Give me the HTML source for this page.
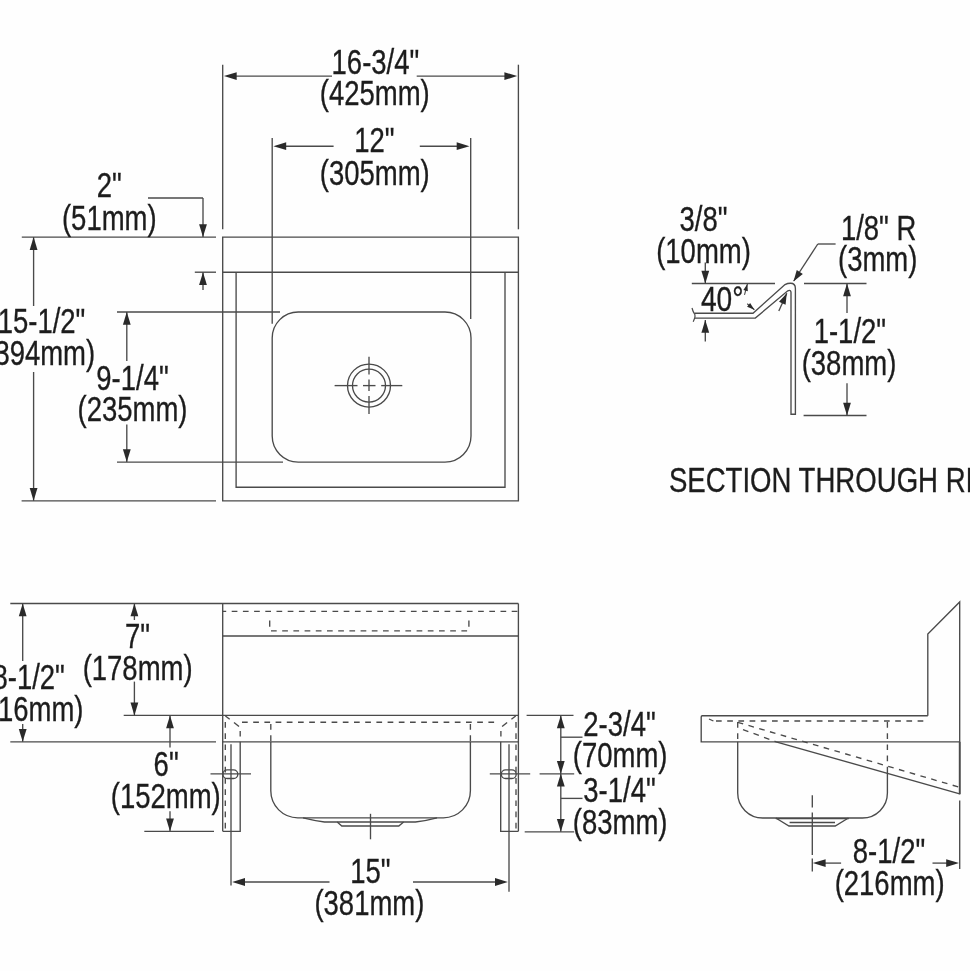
<!DOCTYPE html>
<html lang="en">
<head>
<meta charset="utf-8">
<title>Sink dimension drawing</title>
<style>
html,body{margin:0;padding:0;background:#fff;}
body{width:970px;height:971px;overflow:hidden;}
svg{display:block;filter:grayscale(1);}
svg text{font-family:"Liberation Sans",sans-serif;}
</style>
</head>
<body>
<svg width="970" height="971" viewBox="0 0 970 971">
<rect x="0" y="0" width="970" height="971" fill="#fefefe"/>
<line x1="222.70" y1="64.70" x2="222.70" y2="229.30" stroke="#4a4a4a" stroke-width="1.35"/>
<line x1="518.40" y1="64.70" x2="518.40" y2="229.30" stroke="#4a4a4a" stroke-width="1.35"/>
<line x1="229.90" y1="76.10" x2="332.00" y2="76.10" stroke="#4a4a4a" stroke-width="1.35"/>
<line x1="416.70" y1="76.10" x2="511.20" y2="76.10" stroke="#4a4a4a" stroke-width="1.35"/>
<polygon points="223.90,76.10 236.70,72.20 236.70,80.00" fill="#2a2a2a"/>
<polygon points="517.20,76.10 504.40,80.00 504.40,72.20" fill="#2a2a2a"/>
<line x1="272.20" y1="138.00" x2="272.20" y2="323.70" stroke="#4a4a4a" stroke-width="1.35"/>
<line x1="470.70" y1="138.00" x2="470.70" y2="319.00" stroke="#4a4a4a" stroke-width="1.35"/>
<line x1="279.40" y1="146.20" x2="333.60" y2="146.20" stroke="#4a4a4a" stroke-width="1.35"/>
<line x1="419.80" y1="146.20" x2="463.50" y2="146.20" stroke="#4a4a4a" stroke-width="1.35"/>
<polygon points="273.40,146.20 286.20,142.30 286.20,150.10" fill="#2a2a2a"/>
<polygon points="469.50,146.20 456.70,150.10 456.70,142.30" fill="#2a2a2a"/>
<path d="M222.7,237.1 H518.4 V500.8 H222.7 Z" fill="none" stroke="#4a4a4a" stroke-width="1.35"/>
<line x1="222.70" y1="272.20" x2="518.40" y2="272.20" stroke="#4a4a4a" stroke-width="1.35"/>
<path d="M236.1,272.2 V487.2 H505 V272.2" fill="none" stroke="#4a4a4a" stroke-width="1.35"/>
<rect x="272.2" y="312" width="198.8" height="150.1" rx="26" ry="26" fill="none" stroke="#4a4a4a" stroke-width="1.35"/>
<circle cx="369.0" cy="385.6" r="21.5" fill="none" stroke="#4a4a4a" stroke-width="1.35"/>
<circle cx="369.0" cy="385.6" r="16.5" fill="none" stroke="#4a4a4a" stroke-width="1.35"/>
<line x1="334.60" y1="385.60" x2="357.50" y2="385.60" stroke="#4a4a4a" stroke-width="1.35"/>
<line x1="363.00" y1="385.60" x2="375.50" y2="385.60" stroke="#4a4a4a" stroke-width="1.35"/>
<line x1="381.20" y1="385.60" x2="402.30" y2="385.60" stroke="#4a4a4a" stroke-width="1.35"/>
<line x1="369.00" y1="356.70" x2="369.00" y2="374.40" stroke="#4a4a4a" stroke-width="1.35"/>
<line x1="369.00" y1="379.60" x2="369.00" y2="391.00" stroke="#4a4a4a" stroke-width="1.35"/>
<line x1="369.00" y1="396.00" x2="369.00" y2="414.00" stroke="#4a4a4a" stroke-width="1.35"/>
<line x1="21.80" y1="237.10" x2="216.00" y2="237.10" stroke="#4a4a4a" stroke-width="1.35"/>
<line x1="21.60" y1="500.80" x2="216.00" y2="500.80" stroke="#4a4a4a" stroke-width="1.35"/>
<line x1="33.60" y1="237.10" x2="33.60" y2="306.00" stroke="#4a4a4a" stroke-width="1.35"/>
<line x1="33.60" y1="372.00" x2="33.60" y2="500.80" stroke="#4a4a4a" stroke-width="1.35"/>
<polygon points="33.60,237.10 37.50,249.90 29.70,249.90" fill="#2a2a2a"/>
<polygon points="33.60,500.80 29.70,488.00 37.50,488.00" fill="#2a2a2a"/>
<line x1="148.00" y1="198.00" x2="203.00" y2="198.00" stroke="#4a4a4a" stroke-width="1.35"/>
<line x1="203.00" y1="198.00" x2="203.00" y2="237.10" stroke="#4a4a4a" stroke-width="1.35"/>
<polygon points="203.00,237.10 199.10,224.30 206.90,224.30" fill="#2a2a2a"/>
<line x1="194.80" y1="272.20" x2="216.00" y2="272.20" stroke="#4a4a4a" stroke-width="1.35"/>
<line x1="203.00" y1="272.20" x2="203.00" y2="290.00" stroke="#4a4a4a" stroke-width="1.35"/>
<polygon points="203.00,272.20 206.90,285.00 199.10,285.00" fill="#2a2a2a"/>
<line x1="117.00" y1="312.00" x2="280.00" y2="312.00" stroke="#4a4a4a" stroke-width="1.35"/>
<line x1="117.00" y1="462.10" x2="283.00" y2="462.10" stroke="#4a4a4a" stroke-width="1.35"/>
<line x1="126.80" y1="312.00" x2="126.80" y2="361.00" stroke="#4a4a4a" stroke-width="1.35"/>
<line x1="126.80" y1="424.40" x2="126.80" y2="462.10" stroke="#4a4a4a" stroke-width="1.35"/>
<polygon points="126.80,312.00 130.70,324.80 122.90,324.80" fill="#2a2a2a"/>
<polygon points="126.80,462.10 122.90,449.30 130.70,449.30" fill="#2a2a2a"/>
<text transform="translate(331.56,74.05) scale(0.772,1)" font-size="35.6" fill="#1c1c1c" stroke="#1c1c1c" stroke-width="0.35">16-3/4&quot;</text>
<text transform="translate(319.83,105.35) scale(0.772,1)" font-size="35.6" fill="#1c1c1c" stroke="#1c1c1c" stroke-width="0.35">(425mm)</text>
<text transform="translate(354.17,151.85) scale(0.772,1)" font-size="35.6" fill="#1c1c1c" stroke="#1c1c1c" stroke-width="0.35">12&quot;</text>
<text transform="translate(319.83,184.55) scale(0.772,1)" font-size="35.6" fill="#1c1c1c" stroke="#1c1c1c" stroke-width="0.35">(305mm)</text>
<text transform="translate(96.80,197.05) scale(0.772,1)" font-size="35.6" fill="#1c1c1c" stroke="#1c1c1c" stroke-width="0.35">2&quot;</text>
<text transform="translate(61.96,229.85) scale(0.772,1)" font-size="35.6" fill="#1c1c1c" stroke="#1c1c1c" stroke-width="0.35">(51mm)</text>
<text transform="translate(-2.34,333.35) scale(0.772,1)" font-size="35.6" fill="#1c1c1c" stroke="#1c1c1c" stroke-width="0.35">15-1/2&quot;</text>
<text transform="translate(-14.77,365.35) scale(0.772,1)" font-size="35.6" fill="#1c1c1c" stroke="#1c1c1c" stroke-width="0.35">(394mm)</text>
<text transform="translate(96.29,390.15) scale(0.772,1)" font-size="35.6" fill="#1c1c1c" stroke="#1c1c1c" stroke-width="0.35">9-1/4&quot;</text>
<text transform="translate(77.53,421.25) scale(0.772,1)" font-size="35.6" fill="#1c1c1c" stroke="#1c1c1c" stroke-width="0.35">(235mm)</text>
<path d="M694.6,313.2 H753 L785,284.6 Q787.5,283.2 790.5,283.2 Q795.4,283.2 795.4,288.5 V414.2 H791 V292.5 Q791,289.5 787.8,290.8 L755.3,318.1 H694.6" fill="none" stroke="#4a4a4a" stroke-width="1.35"/>
<path d="M692,308 Q693,312 694.8,314.3 Q695.3,316 694.7,318 Q693.9,320 693.2,321.8" fill="none" stroke="#4a4a4a" stroke-width="1.2"/>
<line x1="691.80" y1="283.50" x2="775.00" y2="283.50" stroke="#4a4a4a" stroke-width="1.35"/>
<line x1="804.00" y1="283.50" x2="866.50" y2="283.50" stroke="#4a4a4a" stroke-width="1.35"/>
<line x1="705.30" y1="262.50" x2="705.30" y2="283.50" stroke="#4a4a4a" stroke-width="1.35"/>
<polygon points="705.30,283.50 701.40,270.70 709.20,270.70" fill="#2a2a2a"/>
<line x1="705.30" y1="320.00" x2="705.30" y2="341.60" stroke="#4a4a4a" stroke-width="1.35"/>
<polygon points="705.30,320.00 709.20,332.80 701.40,332.80" fill="#2a2a2a"/>
<line x1="835.60" y1="244.00" x2="817.80" y2="244.00" stroke="#4a4a4a" stroke-width="1.35"/>
<line x1="817.80" y1="244.00" x2="793.70" y2="281.00" stroke="#4a4a4a" stroke-width="1.35"/>
<polygon points="793.50,281.60 796.76,270.00 802.79,273.93" fill="#2a2a2a"/>
<line x1="778.80" y1="311.00" x2="786.80" y2="293.30" stroke="#4a4a4a" stroke-width="1.35"/>
<polygon points="786.80,293.30 785.55,304.81 778.99,301.84" fill="#2a2a2a"/>
<line x1="744.50" y1="294.80" x2="747.40" y2="283.90" stroke="#4a4a4a" stroke-width="1.1"/>
<polygon points="747.40,283.90 747.82,291.26 743.38,290.07" fill="#2a2a2a"/>
<line x1="747.20" y1="303.80" x2="754.40" y2="309.70" stroke="#4a4a4a" stroke-width="1.1"/>
<polygon points="754.40,309.70 747.08,306.80 750.12,303.09" fill="#2a2a2a"/>
<line x1="803.60" y1="415.50" x2="866.50" y2="415.50" stroke="#4a4a4a" stroke-width="1.35"/>
<line x1="847.00" y1="283.50" x2="847.00" y2="313.00" stroke="#4a4a4a" stroke-width="1.35"/>
<line x1="847.00" y1="383.30" x2="847.00" y2="415.50" stroke="#4a4a4a" stroke-width="1.35"/>
<polygon points="847.00,283.50 850.90,296.30 843.10,296.30" fill="#2a2a2a"/>
<polygon points="847.00,415.50 843.10,402.70 850.90,402.70" fill="#2a2a2a"/>
<text transform="translate(679.52,230.85) scale(0.772,1)" font-size="35.6" fill="#1c1c1c" stroke="#1c1c1c" stroke-width="0.35">3/8&quot;</text>
<text transform="translate(656.16,262.85) scale(0.772,1)" font-size="35.6" fill="#1c1c1c" stroke="#1c1c1c" stroke-width="0.35">(10mm)</text>
<text transform="translate(840.88,239.75) scale(0.772,1)" font-size="35.6" fill="#1c1c1c" stroke="#1c1c1c" stroke-width="0.35">1/8&quot; R</text>
<text transform="translate(837.99,271.05) scale(0.772,1)" font-size="35.6" fill="#1c1c1c" stroke="#1c1c1c" stroke-width="0.35">(3mm)</text>
<text transform="translate(700.90,310.55) scale(0.79,1)" font-size="35.6" fill="#1c1c1c" stroke="#1c1c1c" stroke-width="0.35">40°</text>
<text transform="translate(813.69,343.35) scale(0.772,1)" font-size="35.6" fill="#1c1c1c" stroke="#1c1c1c" stroke-width="0.35">1-1/2&quot;</text>
<text transform="translate(801.66,375.15) scale(0.772,1)" font-size="35.6" fill="#1c1c1c" stroke="#1c1c1c" stroke-width="0.35">(38mm)</text>
<text transform="translate(668.90,491.75) scale(0.775,1)" font-size="35.6" fill="#1c1c1c" stroke="#1c1c1c" stroke-width="0.35">SECTION THROUGH RIM</text>
<line x1="10.30" y1="603.50" x2="518.40" y2="603.50" stroke="#4a4a4a" stroke-width="1.35"/>
<line x1="222.70" y1="603.50" x2="222.70" y2="831.30" stroke="#4a4a4a" stroke-width="1.35"/>
<line x1="518.40" y1="603.50" x2="518.40" y2="831.30" stroke="#4a4a4a" stroke-width="1.35"/>
<line x1="222.70" y1="611.40" x2="518.40" y2="611.40" stroke="#4a4a4a" stroke-width="1.35" stroke-dasharray="5.7 5.5" stroke-dashoffset="-9"/>
<line x1="269.70" y1="620.50" x2="269.70" y2="626.70" stroke="#4a4a4a" stroke-width="1.35"/>
<line x1="468.90" y1="620.50" x2="468.90" y2="626.70" stroke="#4a4a4a" stroke-width="1.35"/>
<line x1="271.00" y1="630.80" x2="469.00" y2="630.80" stroke="#4a4a4a" stroke-width="1.35" stroke-dasharray="5.7 5.5"/>
<line x1="222.70" y1="636.00" x2="518.40" y2="636.00" stroke="#4a4a4a" stroke-width="1.35"/>
<line x1="123.70" y1="715.40" x2="518.40" y2="715.40" stroke="#4a4a4a" stroke-width="1.35"/>
<line x1="242.00" y1="722.20" x2="495.00" y2="722.20" stroke="#4a4a4a" stroke-width="1.35" stroke-dasharray="5.7 5.5"/>
<line x1="10.30" y1="741.80" x2="216.00" y2="741.80" stroke="#4a4a4a" stroke-width="1.35"/>
<line x1="222.70" y1="741.80" x2="518.40" y2="741.80" stroke="#4a4a4a" stroke-width="1.35"/>
<line x1="225.40" y1="716.00" x2="229.70" y2="719.30" stroke="#4a4a4a" stroke-width="1.35"/>
<line x1="515.70" y1="716.00" x2="511.40" y2="719.30" stroke="#4a4a4a" stroke-width="1.35"/>
<line x1="234.00" y1="722.40" x2="239.00" y2="726.60" stroke="#4a4a4a" stroke-width="1.35"/>
<line x1="507.10" y1="722.40" x2="502.10" y2="726.60" stroke="#4a4a4a" stroke-width="1.35"/>
<line x1="240.20" y1="731.00" x2="240.20" y2="736.60" stroke="#4a4a4a" stroke-width="1.35"/>
<line x1="500.90" y1="731.00" x2="500.90" y2="736.60" stroke="#4a4a4a" stroke-width="1.35"/>
<line x1="225.30" y1="722.00" x2="225.30" y2="831.00" stroke="#4a4a4a" stroke-width="1.35" stroke-dasharray="5.7 5.5"/>
<line x1="516.00" y1="722.00" x2="516.00" y2="831.00" stroke="#4a4a4a" stroke-width="1.35" stroke-dasharray="5.7 5.5"/>
<line x1="270.80" y1="724.00" x2="270.80" y2="741.80" stroke="#4a4a4a" stroke-width="1.35" stroke-dasharray="5.7 5.5"/>
<line x1="470.40" y1="724.00" x2="470.40" y2="741.80" stroke="#4a4a4a" stroke-width="1.35" stroke-dasharray="5.7 5.5"/>
<path d="M222.7,831.3 H240.2 V741.8" fill="none" stroke="#4a4a4a" stroke-width="1.35"/>
<path d="M518.4,831.3 H500.7 V741.8" fill="none" stroke="#4a4a4a" stroke-width="1.35"/>
<line x1="231.00" y1="744.30" x2="231.00" y2="885.60" stroke="#4a4a4a" stroke-width="1.35"/>
<line x1="509.00" y1="744.30" x2="509.00" y2="891.80" stroke="#4a4a4a" stroke-width="1.35"/>
<rect x="222.9" y="769.9" width="14.9" height="8.6" rx="4.3" ry="4.3" fill="none" stroke="#4a4a4a" stroke-width="1.35"/>
<rect x="501.3" y="769.9" width="14.9" height="8.6" rx="4.3" ry="4.3" fill="none" stroke="#4a4a4a" stroke-width="1.35"/>
<line x1="210.50" y1="773.80" x2="251.00" y2="773.80" stroke="#4a4a4a" stroke-width="1.35"/>
<line x1="489.80" y1="773.80" x2="530.20" y2="773.80" stroke="#4a4a4a" stroke-width="1.35"/>
<line x1="539.60" y1="773.80" x2="574.20" y2="773.80" stroke="#4a4a4a" stroke-width="1.35"/>
<path d="M270.8,741.8 V790.8 A27,27 0 0 0 297.8,817.8 H443.4 A27,27 0 0 0 470.4,790.8 V741.8" fill="none" stroke="#4a4a4a" stroke-width="1.35"/>
<path d="M303,817.8 Q314,820.5 324.5,822 H415.4 Q427,820.5 437,817.8" fill="none" stroke="#4a4a4a" stroke-width="1.35"/>
<path d="M337.2,822 L341.8,826 H398.8 L403.6,822" fill="none" stroke="#4a4a4a" stroke-width="1.35"/>
<line x1="370.50" y1="813.80" x2="370.50" y2="839.30" stroke="#4a4a4a" stroke-width="1.35"/>
<line x1="22.70" y1="603.50" x2="22.70" y2="661.00" stroke="#4a4a4a" stroke-width="1.35"/>
<line x1="22.70" y1="724.00" x2="22.70" y2="741.80" stroke="#4a4a4a" stroke-width="1.35"/>
<polygon points="22.70,603.50 26.60,616.30 18.80,616.30" fill="#2a2a2a"/>
<polygon points="22.70,741.80 18.80,729.00 26.60,729.00" fill="#2a2a2a"/>
<line x1="134.40" y1="603.50" x2="134.40" y2="620.00" stroke="#4a4a4a" stroke-width="1.35"/>
<polygon points="134.40,603.50 138.30,616.30 130.50,616.30" fill="#2a2a2a"/>
<line x1="134.40" y1="681.60" x2="134.40" y2="715.40" stroke="#4a4a4a" stroke-width="1.35"/>
<polygon points="134.40,715.40 130.50,702.60 138.30,702.60" fill="#2a2a2a"/>
<line x1="170.00" y1="715.40" x2="170.00" y2="747.40" stroke="#4a4a4a" stroke-width="1.35"/>
<polygon points="170.00,715.40 173.90,728.20 166.10,728.20" fill="#2a2a2a"/>
<line x1="170.00" y1="811.30" x2="170.00" y2="831.30" stroke="#4a4a4a" stroke-width="1.35"/>
<polygon points="170.00,831.30 166.10,818.50 173.90,818.50" fill="#2a2a2a"/>
<line x1="144.30" y1="831.30" x2="214.00" y2="831.30" stroke="#4a4a4a" stroke-width="1.35"/>
<text transform="translate(125.00,647.95) scale(0.772,1)" font-size="35.6" fill="#1c1c1c" stroke="#1c1c1c" stroke-width="0.35">7&quot;</text>
<text transform="translate(82.63,679.95) scale(0.772,1)" font-size="35.6" fill="#1c1c1c" stroke="#1c1c1c" stroke-width="0.35">(178mm)</text>
<text transform="translate(-7.51,689.25) scale(0.772,1)" font-size="35.6" fill="#1c1c1c" stroke="#1c1c1c" stroke-width="0.35">8-1/2&quot;</text>
<text transform="translate(-26.47,720.75) scale(0.772,1)" font-size="35.6" fill="#1c1c1c" stroke="#1c1c1c" stroke-width="0.35">(216mm)</text>
<text transform="translate(153.60,775.55) scale(0.772,1)" font-size="35.6" fill="#1c1c1c" stroke="#1c1c1c" stroke-width="0.35">6&quot;</text>
<text transform="translate(110.83,807.55) scale(0.772,1)" font-size="35.6" fill="#1c1c1c" stroke="#1c1c1c" stroke-width="0.35">(152mm)</text>
<line x1="526.60" y1="715.40" x2="573.50" y2="715.40" stroke="#4a4a4a" stroke-width="1.35"/>
<line x1="524.70" y1="831.80" x2="574.20" y2="831.80" stroke="#4a4a4a" stroke-width="1.35"/>
<line x1="560.80" y1="715.40" x2="560.80" y2="831.80" stroke="#4a4a4a" stroke-width="1.35"/>
<polygon points="560.80,715.40 564.70,728.20 556.90,728.20" fill="#2a2a2a"/>
<polygon points="560.80,773.80 556.90,761.00 564.70,761.00" fill="#2a2a2a"/>
<polygon points="560.80,773.80 564.70,786.60 556.90,786.60" fill="#2a2a2a"/>
<polygon points="560.80,831.80 556.90,819.00 564.70,819.00" fill="#2a2a2a"/>
<line x1="560.80" y1="737.20" x2="582.50" y2="737.20" stroke="#4a4a4a" stroke-width="1.35"/>
<line x1="560.80" y1="798.40" x2="582.50" y2="798.40" stroke="#4a4a4a" stroke-width="1.35"/>
<text transform="translate(583.29,735.65) scale(0.772,1)" font-size="35.6" fill="#1c1c1c" stroke="#1c1c1c" stroke-width="0.35">2-3/4&quot;</text>
<text transform="translate(572.86,767.35) scale(0.772,1)" font-size="35.6" fill="#1c1c1c" stroke="#1c1c1c" stroke-width="0.35">(70mm)</text>
<text transform="translate(583.29,801.95) scale(0.772,1)" font-size="35.6" fill="#1c1c1c" stroke="#1c1c1c" stroke-width="0.35">3-1/4&quot;</text>
<text transform="translate(572.86,833.95) scale(0.772,1)" font-size="35.6" fill="#1c1c1c" stroke="#1c1c1c" stroke-width="0.35">(83mm)</text>
<line x1="238.20" y1="882.00" x2="329.50" y2="882.00" stroke="#4a4a4a" stroke-width="1.35"/>
<line x1="413.00" y1="882.00" x2="501.80" y2="882.00" stroke="#4a4a4a" stroke-width="1.35"/>
<polygon points="232.20,882.00 245.00,878.10 245.00,885.90" fill="#2a2a2a"/>
<polygon points="507.80,882.00 495.00,885.90 495.00,878.10" fill="#2a2a2a"/>
<text transform="translate(350.27,882.85) scale(0.772,1)" font-size="35.6" fill="#1c1c1c" stroke="#1c1c1c" stroke-width="0.35">15&quot;</text>
<text transform="translate(314.43,915.35) scale(0.772,1)" font-size="35.6" fill="#1c1c1c" stroke="#1c1c1c" stroke-width="0.35">(381mm)</text>
<path d="M927.8,715.7 H702.3 Q701.2,715.7 701.2,717 V741.8 H960" fill="none" stroke="#4a4a4a" stroke-width="1.35"/>
<path d="M927.8,715.7 V634.1 L959.7,602 V794.2" fill="none" stroke="#4a4a4a" stroke-width="1.35"/>
<line x1="959.70" y1="741.80" x2="959.70" y2="794.20" stroke="#4a4a4a" stroke-width="1.8"/>
<line x1="959.70" y1="800.50" x2="959.70" y2="869.00" stroke="#4a4a4a" stroke-width="1.35"/>
<path d="M709,719 L713.4,721" fill="none" stroke="#4a4a4a" stroke-width="1.35"/>
<line x1="716.00" y1="721.00" x2="927.80" y2="721.00" stroke="#4a4a4a" stroke-width="1.35" stroke-dasharray="5.7 5.5"/>
<line x1="737.70" y1="722.00" x2="737.70" y2="741.80" stroke="#4a4a4a" stroke-width="1.35" stroke-dasharray="5.7 5.5"/>
<line x1="887.40" y1="722.00" x2="887.40" y2="768.00" stroke="#4a4a4a" stroke-width="1.35" stroke-dasharray="5.7 5.5"/>
<line x1="737.70" y1="722.30" x2="959.70" y2="787.30" stroke="#4a4a4a" stroke-width="1.35" stroke-dasharray="5.7 5.5"/>
<line x1="743.00" y1="729.60" x2="776.00" y2="741.80" stroke="#4a4a4a" stroke-width="1.35" stroke-dasharray="5.7 5.5"/>
<line x1="776.00" y1="741.80" x2="959.70" y2="793.80" stroke="#4a4a4a" stroke-width="1.35"/>
<path d="M737.7,741.8 V793 A25,25 0 0 0 762.7,818 H862.4 A25,25 0 0 0 887.4,793 V768" fill="none" stroke="#4a4a4a" stroke-width="1.35"/>
<path d="M775.8,818 L789,826 H835.2 L848.4,818" fill="none" stroke="#4a4a4a" stroke-width="1.35"/>
<line x1="775.80" y1="818.60" x2="848.80" y2="818.60" stroke="#4a4a4a" stroke-width="1.35"/>
<line x1="789.60" y1="822.50" x2="835.00" y2="822.50" stroke="#4a4a4a" stroke-width="1.35"/>
<line x1="812.30" y1="795.20" x2="812.30" y2="807.40" stroke="#4a4a4a" stroke-width="1.35"/>
<line x1="812.30" y1="812.50" x2="812.30" y2="855.00" stroke="#4a4a4a" stroke-width="1.35"/>
<line x1="812.30" y1="858.60" x2="812.30" y2="871.60" stroke="#4a4a4a" stroke-width="1.35"/>
<line x1="818.80" y1="863.10" x2="841.10" y2="863.10" stroke="#4a4a4a" stroke-width="1.35"/>
<line x1="932.50" y1="863.10" x2="953.00" y2="863.10" stroke="#4a4a4a" stroke-width="1.35"/>
<polygon points="812.80,863.10 825.60,859.20 825.60,867.00" fill="#2a2a2a"/>
<polygon points="959.00,863.10 946.20,867.00 946.20,859.20" fill="#2a2a2a"/>
<text transform="translate(852.79,862.85) scale(0.772,1)" font-size="35.6" fill="#1c1c1c" stroke="#1c1c1c" stroke-width="0.35">8-1/2&quot;</text>
<text transform="translate(834.63,894.75) scale(0.772,1)" font-size="35.6" fill="#1c1c1c" stroke="#1c1c1c" stroke-width="0.35">(216mm)</text>
</svg>
</body>
</html>
